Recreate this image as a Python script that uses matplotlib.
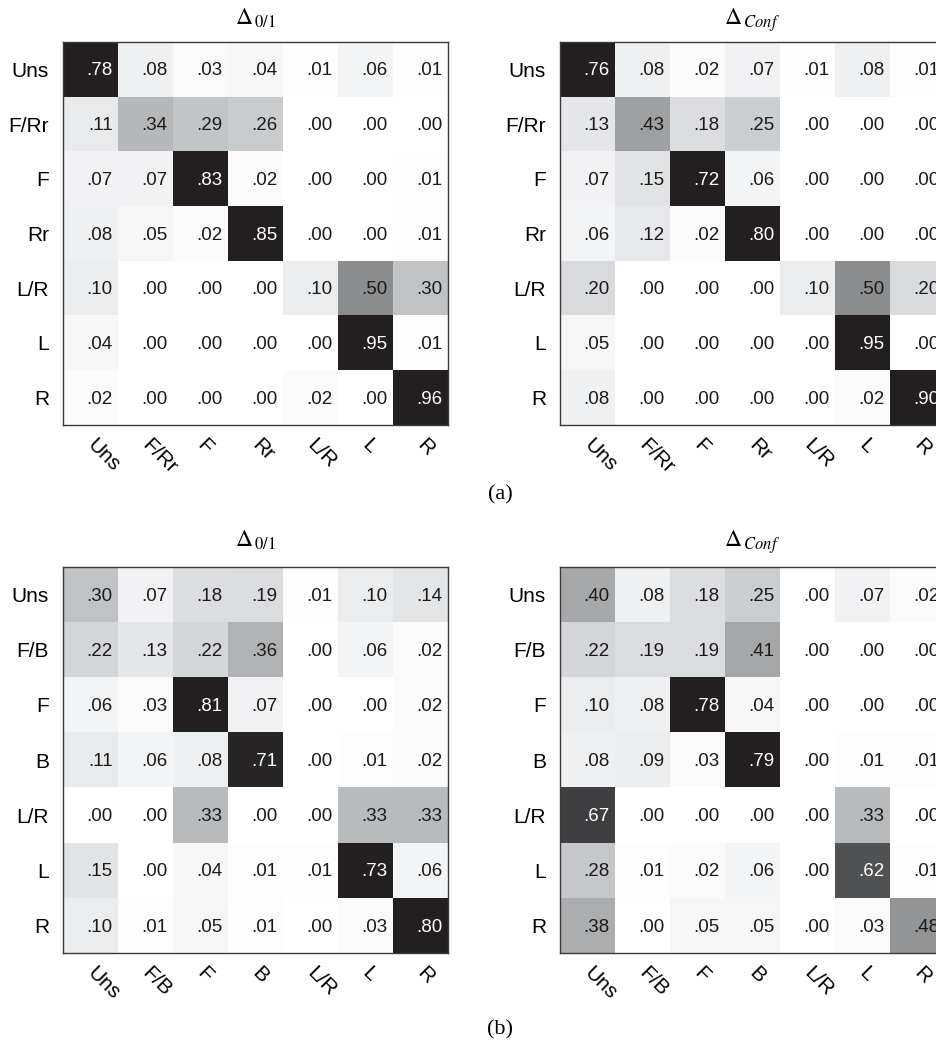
import numpy as np
import matplotlib
matplotlib.use("Agg")
import matplotlib.pyplot as plt
from matplotlib.colors import LinearSegmentedColormap

plt.rcParams['font.family'] = ['Liberation Sans', 'DejaVu Sans']
plt.rcParams['mathtext.fontset'] = 'stix'

labels_a = ["Uns", "F/Rr", "F", "Rr", "L/R", "L", "R"]
labels_b = ["Uns", "F/B", "F", "B", "L/R", "L", "R"]

a_01 = [
    [.78, .08, .03, .04, .01, .06, .01],
    [.11, .34, .29, .26, .00, .00, .00],
    [.07, .07, .83, .02, .00, .00, .01],
    [.08, .05, .02, .85, .00, .00, .01],
    [.10, .00, .00, .00, .10, .50, .30],
    [.04, .00, .00, .00, .00, .95, .01],
    [.02, .00, .00, .00, .02, .00, .96],
]
a_conf = [
    [.76, .08, .02, .07, .01, .08, .01],
    [.13, .43, .18, .25, .00, .00, .00],
    [.07, .15, .72, .06, .00, .00, .00],
    [.06, .12, .02, .80, .00, .00, .00],
    [.20, .00, .00, .00, .10, .50, .20],
    [.05, .00, .00, .00, .00, .95, .00],
    [.08, .00, .00, .00, .00, .02, .90],
]
b_01 = [
    [.30, .07, .18, .19, .01, .10, .14],
    [.22, .13, .22, .36, .00, .06, .02],
    [.06, .03, .81, .07, .00, .00, .02],
    [.11, .06, .08, .71, .00, .01, .02],
    [.00, .00, .33, .00, .00, .33, .33],
    [.15, .00, .04, .01, .01, .73, .06],
    [.10, .01, .05, .01, .00, .03, .80],
]
b_conf = [
    [.40, .08, .18, .25, .00, .07, .02],
    [.22, .19, .19, .41, .00, .00, .00],
    [.10, .08, .78, .04, .00, .00, .00],
    [.08, .09, .03, .79, .00, .01, .01],
    [.67, .00, .00, .00, .00, .33, .00],
    [.28, .01, .02, .06, .00, .62, .01],
    [.38, .00, .05, .05, .00, .03, .48],
]

cmap = LinearSegmentedColormap.from_list("papergray", [
    (0.00, "#ffffff"),
    (0.05, "#f6f6f7"),
    (0.10, "#eaecee"),
    (0.20, "#d8dadd"),
    (0.30, "#c0c3c5"),
    (0.40, "#a7a8aa"),
    (0.50, "#8e8f91"),
    (0.60, "#57585a"),
    (0.67, "#404042"),
    (0.72, "#231f20"),
    (1.00, "#231f20"),
])

W, H = 936, 1042
fig = plt.figure(figsize=(W / 100, H / 100), dpi=100)

def px_axes(x0, top, w, h):
    return fig.add_axes([x0 / W, 1 - (top + h) / H, w / W, h / H])

FS = 13.5
LFS = 15
panels = [
    (a_01, labels_a, r"$\Delta_{\,\mathrm{0/1}}$", 63, 42, 383, 17),
    (a_conf, labels_a, r"$\Delta_{\,Conf}$", 560, 42, 383, 17),
    (b_01, labels_b, r"$\Delta_{\,\mathrm{0/1}}$", 63, 567, 386, 20),
    (b_conf, labels_b, r"$\Delta_{\,Conf}$", 560, 567, 386, 20),
]

for data, labs, title, x0, top, h, toff in panels:
    ax = px_axes(x0, top, 385, h)
    m = np.array(data)
    ax.imshow(m, cmap=cmap, vmin=0, vmax=1, aspect='auto', interpolation='nearest')
    n = len(labs)
    for i in range(n):
        for j in range(n):
            v = m[i, j]
            txt = f"{v:.2f}".lstrip("0")
            ax.text(j + 0.40, i + 0.03, txt, ha='right', va='center',
                    fontsize=FS, color='white' if v > 0.55 else '#1a1a1a')
    ax.set_xticks(range(n))
    ax.set_yticks(range(n))
    ax.set_yticklabels(labs, fontsize=LFS)
    ax.set_xticklabels(labs, fontsize=LFS)
    ax.tick_params(axis='both', length=0)
    ax.tick_params(axis='y', pad=10)
    ax.tick_params(axis='x', pad=12)
    for lab in ax.get_xticklabels():
        lab.set_rotation(-45)
        lab.set_ha('left')
        lab.set_va('center')
        lab.set_rotation_mode('anchor')
    for s in ax.spines.values():
        s.set_color('#3a3a3a')
        s.set_linewidth(1.0)
    ax.annotate(title, xy=(0.5, 1.0), xycoords='axes fraction',
                xytext=(0, toff * 0.72), textcoords='offset points',
                ha='center', va='baseline', fontsize=17)

fig.text(500 / W, 1 - 495 / H, "(a)", ha='center', va='center',
         fontsize=16, family='Liberation Serif')
fig.text(500 / W, 1 - 1030 / H, "(b)", ha='center', va='center',
         fontsize=16, family='Liberation Serif')

fig.savefig("out.png", dpi=100)
